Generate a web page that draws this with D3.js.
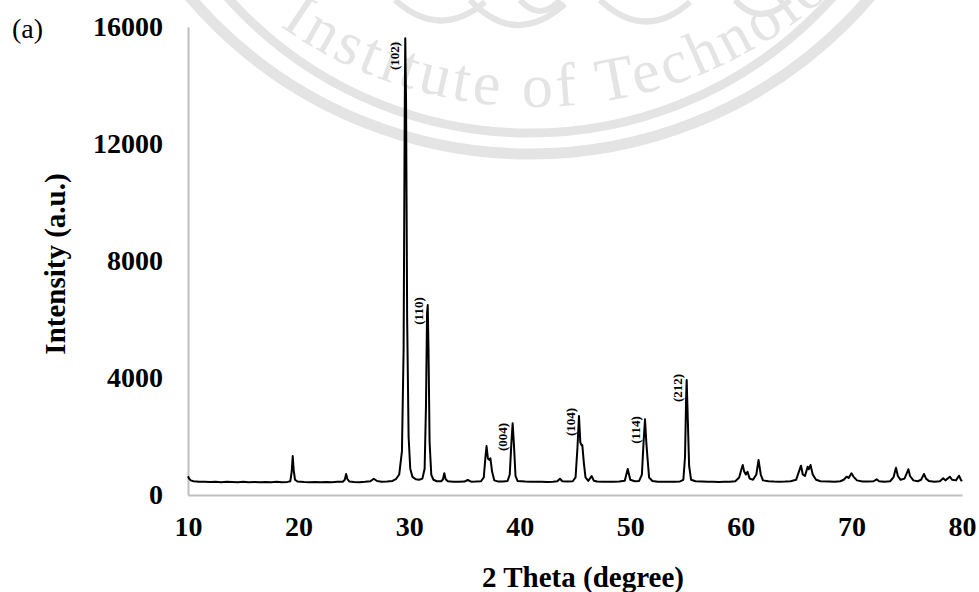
<!DOCTYPE html>
<html>
<head>
<meta charset="utf-8">
<script src="https://cdn.jsdelivr.net/npm/d3@7"></script>
<style>
  body { margin: 0; background: #fff; }
  svg { display: block; }
</style>
</head>
<body>
<svg id="chart"></svg>
<script>
// 2 theta (degree) sampled along the pattern
var theta = [10.0,10.1,10.25,10.5,11.0,11.5,12.0,12.5,13.0,13.5,14.0,14.5,15.0,15.5,16.0,16.5,17.0,17.5,18.0,18.5,19.0,19.25,19.38,19.47,19.56,19.68,19.9,20.5,21.0,21.5,22.0,22.5,23.0,23.5,24.0,24.18,24.3,24.42,24.6,25.0,25.5,26.0,26.5,26.8,27.1,27.5,28.0,28.5,28.8,29.1,29.35,29.5,29.6,29.65,29.72,29.82,29.95,30.1,30.3,30.6,30.9,31.2,31.4,31.52,31.62,31.68,31.75,31.85,32.0,32.2,32.5,32.9,33.05,33.18,33.3,33.5,34.0,34.5,35.0,35.3,35.6,36.0,36.5,36.75,36.9,37.0,37.12,37.25,37.35,37.5,37.7,38.0,38.5,38.9,39.1,39.25,39.36,39.48,39.62,39.8,40.5,41.0,41.5,42.0,42.5,43.0,43.4,43.64,43.85,44.3,44.8,45.05,45.22,45.36,45.48,45.6,45.66,45.8,45.95,46.2,46.5,46.7,47.0,47.5,48.0,48.5,49.0,49.5,49.77,50.0,50.4,50.8,51.05,51.2,51.33,51.45,51.55,51.7,52.0,52.5,53.0,53.5,54.0,54.5,54.8,54.95,55.05,55.1,55.2,55.32,55.5,55.9,56.5,57.0,57.5,58.0,58.5,59.0,59.5,59.85,60.05,60.17,60.3,60.45,60.6,60.8,61.1,61.4,61.6,61.8,62.0,62.5,63.0,63.5,64.0,64.5,65.0,65.25,65.44,65.6,65.8,66.04,66.15,66.3,66.5,66.8,67.2,68.0,68.5,69.0,69.3,69.57,69.75,70.0,70.2,70.5,71.0,71.5,72.0,72.28,72.5,73.0,73.5,73.8,74.03,74.2,74.45,74.8,75.15,75.3,75.6,76.0,76.3,76.56,76.75,77.0,77.5,78.0,78.3,78.5,78.9,79.1,79.45,79.73,79.9,80.0];
// intensity (a.u.) at each theta
var intensity = [640,560,500,470,455,450,445,455,440,450,445,440,452,440,448,438,445,440,450,440,448,470,800,1333,850,520,460,445,440,448,436,445,440,450,455,520,718,540,460,445,440,450,470,557,480,455,460,480,540,700,1500,5000,13000,15614,13500,6000,2000,900,620,540,520,560,900,3000,6200,6496,5000,1800,700,520,470,470,530,742,540,470,455,450,458,513,455,458,470,600,1300,1675,1250,1200,1255,800,500,465,460,480,700,1800,2451,1700,650,480,460,455,450,455,448,455,470,557,470,460,470,600,1600,2700,1800,1700,1709,1100,600,480,650,490,460,455,450,455,460,490,889,520,470,480,700,1800,2588,1800,1300,600,480,455,450,455,450,465,520,1300,3300,3932,2600,1000,520,470,460,455,450,448,452,455,470,600,880,1026,800,700,797,560,520,700,1197,700,500,470,460,455,458,470,520,800,1002,700,650,968,880,1026,700,520,470,460,455,470,520,626,580,742,620,500,460,458,470,537,470,455,470,600,933,650,520,560,879,650,500,470,520,718,560,480,455,470,571,500,626,520,500,660,520,470];

// axis ticks
var xTicks = [10, 20, 30, 40, 50, 60, 70, 80];
var yTicks = [0, 4000, 8000, 12000, 16000];

// peak (hkl) labels, placed at the centre of each label
var peakLabels = ["(102)", "(110)", "(004)", "(104)", "(114)", "(212)"];
var peakTheta = [28.63, 30.80, 38.40, 44.55, 50.43, 54.23];
var peakInt = [15009, 6290, 1983, 2496, 2222, 3658];

function init(){
    var data = theta.map(function(t, i) { return {t: t, v: intensity[i]}; });

    var W = 979, H = 592;
    var left = 188, right = 962, top = 27, bottom = 495;
    var serif = "'Liberation Serif', 'Times New Roman', Times, serif";
    var wmColor = "#e4e4e4";

    var svg = d3.select("#chart")
        .attr("width", W)
        .attr("height", H);

    // watermark (seal) in the background
    var wm = svg.append("g").attr("fill", "none").attr("stroke", wmColor);
    wm.append("circle").attr("cx", 530).attr("cy", -293).attr("r", 447).attr("stroke-width", 11);
    wm.append("circle").attr("cx", 530).attr("cy", -272).attr("r", 405).attr("stroke-width", 9);
    // ornament loops at the top
    wm.append("path").attr("stroke-width", 6)
        .attr("d", "M395,0 Q440,40 485,2 M470,0 Q515,48 565,4 M520,0 Q540,22 560,0 M600,0 Q645,42 690,2 M735,0 Q760,28 790,0");
    svg.append("defs").append("path")
        .attr("id", "wmArc")
        .attr("d", "M280,26 A443,443 0 0 0 978,-340");
    svg.append("text")
        .attr("font-family", serif)
        .attr("font-size", 62)
        .attr("letter-spacing", 4)
        .attr("fill", wmColor)
        .append("textPath")
        .attr("href", "#wmArc")
        .text("Institute of Technology");

    //scales
    var x = d3.scaleLinear().domain([10, 80]).range([left, right]);
    var y = d3.scaleLinear().domain([0, 16000]).range([bottom, top]);

    // axes
    var xAxis = svg.append("g")
        .attr("transform", "translate(0," + bottom + ")")
        .call(d3.axisBottom(x).tickValues(xTicks).tickSize(0).tickPadding(21).tickFormat(d3.format("d")));
    var yAxis = svg.append("g")
        .attr("transform", "translate(" + left + ",0)")
        .call(d3.axisLeft(y).tickValues(yTicks).tickSize(0).tickPadding(25).tickFormat(d3.format("d")));

    [xAxis, yAxis].forEach(function(g) {
        g.select(".domain").attr("stroke", "#bfbfbf").attr("stroke-width", 2);
        g.selectAll("text")
            .attr("font-family", serif)
            .attr("font-size", 28)
            .attr("font-weight", "bold")
            .attr("fill", "#000");
    });

    // pattern line
    var line = d3.line()
        .x(function(d) { return x(d.t); })
        .y(function(d) { return y(d.v); });

    svg.append("path")
        .datum(data)
        .attr("fill", "none")
        .attr("stroke", "#000")
        .attr("stroke-width", 2)
        .attr("stroke-linejoin", "round")
        .attr("d", line);

    // peak labels
    svg.selectAll(".peak")
        .data(peakLabels)
        .enter()
        .append("text")
        .attr("class", "peak")
        .attr("transform", function(d, i) {
            return "translate(" + x(peakTheta[i]) + "," + y(peakInt[i]) + ") rotate(-90)";
        })
        .attr("text-anchor", "middle")
        .attr("dy", "0.35em")
        .attr("font-family", serif)
        .attr("font-size", 13)
        .attr("font-weight", "bold")
        .text(function(d) { return d; });

    // axis titles
    svg.append("text")
        .attr("transform", "translate(65,264) rotate(-90)")
        .attr("text-anchor", "middle")
        .attr("font-family", serif)
        .attr("font-size", 29)
        .attr("font-weight", "bold")
        .text("Intensity (a.u.)");

    svg.append("text")
        .attr("x", 583)
        .attr("y", 587)
        .attr("text-anchor", "middle")
        .attr("font-family", serif)
        .attr("font-size", 29)
        .attr("font-weight", "bold")
        .text("2 Theta (degree)");

    // panel letter
    svg.append("text")
        .attr("x", 12)
        .attr("y", 38)
        .attr("font-family", serif)
        .attr("font-size", 28)
        .text("(a)");
};
window.onload = init
</script>
</body>
</html>
